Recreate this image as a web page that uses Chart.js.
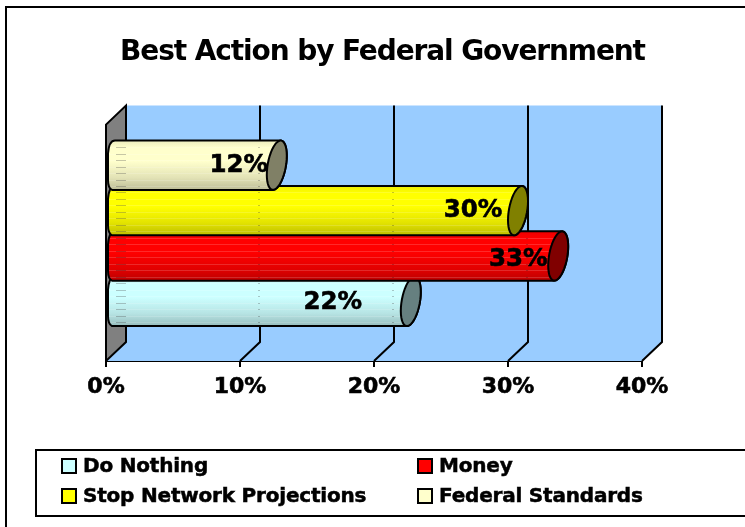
<!DOCTYPE html>
<html>
<head>
<meta charset="utf-8">
<title>Best Action by Federal Government</title>
<script src="https://cdn.jsdelivr.net/npm/chart.js@4"></script>
<style>
    html, body { margin: 0; padding: 0; background: #fff; overflow: hidden; }
    #chart { display: block; }
</style>
</head>
<body>
<canvas id="chart" width="745" height="527"></canvas>
<script>
// chart values
const categories = ['Best Action'];
const seriesNames = ['Do Nothing', 'Money', 'Stop Network Projections', 'Federal Standards'];
const doNothing = [22];
const money = [33];
const stopProjections = [30];
const federalStandards = [12];
const xTicks = [0, 10, 20, 30, 40];

const seriesColors = ['#CCFFFF', '#FF0000', '#FFFF00', '#FFFFCC'];
const fontFamily = '"DejaVu Sans"';
const labelFont = `bold 24.5px ${fontFamily}`;
const legendFont = `bold 20px ${fontFamily}`;

// how far each value label sits from its bar end
const labelShift = [68, 30, 35, 28];
const labelDrop = [1, 4, 0, 0];

// oblique depth of the 3d box
const depthX = 20;
const depthY = 19;

function shade(hex, k) {
    const n = parseInt(hex.slice(1), 16);
    const r = Math.round((n >> 16 & 255) * k);
    const g = Math.round((n >> 8 & 255) * k);
    const b = Math.round((n & 255) * k);
    return `rgb(${r},${g},${b})`;
}

// walls, floor and gridlines behind the bars
function drawBox(chart) {
    const { ctx, chartArea: a, scales: { x } } = chart;
    ctx.save();
    ctx.fillStyle = '#99CCFF';
    ctx.beginPath();
    ctx.moveTo(a.left, a.bottom);
    ctx.lineTo(a.left + depthX, a.bottom - depthY);
    ctx.lineTo(a.left + depthX, a.top - depthY);
    ctx.lineTo(a.right + depthX, a.top - depthY);
    ctx.lineTo(a.right + depthX, a.bottom - depthY);
    ctx.lineTo(a.right, a.bottom);
    ctx.closePath();
    ctx.fill();

    ctx.fillStyle = '#808080';
    ctx.strokeStyle = '#000';
    ctx.lineWidth = 2;
    ctx.beginPath();
    ctx.moveTo(a.left, a.bottom);
    ctx.lineTo(a.left, a.top);
    ctx.lineTo(a.left + depthX, a.top - depthY);
    ctx.lineTo(a.left + depthX, a.bottom - depthY);
    ctx.closePath();
    ctx.fill();
    ctx.stroke();

    xTicks.slice(1).forEach(v => {
        const px = x.getPixelForValue(v);
        ctx.beginPath();
        ctx.moveTo(px, a.bottom);
        ctx.lineTo(px + depthX, a.bottom - depthY);
        ctx.lineTo(px + depthX, a.top - depthY);
        ctx.stroke();
    });
    ctx.restore();
}

// a cylinder cap is a slanted ellipse in the oblique projection
function capPoint(cx, cy, half, t) {
    const rx = depthX / 2;
    const ry = depthY / 2;
    const hy = Math.sqrt(half * half - ry * ry);
    return [cx + Math.sin(t) * rx, cy - Math.cos(t) * hy - Math.sin(t) * ry];
}

function traceCap(path, cx, cy, half, from, to) {
    const steps = 40;
    for (let i = 0; i <= steps; i++) {
        const t = from + (to - from) * i / steps;
        const p = capPoint(cx, cy, half, t);
        path.lineTo(p[0], p[1]);
    }
}

function drawCylinder(chart, index) {
    const { ctx, scales: { x } } = chart;
    const bar = chart.getDatasetMeta(index).data[0];
    const color = seriesColors[index];
    const half = bar.height / 2 + 2;
    const cy = bar.y - depthY / 2;
    const x0 = x.getPixelForValue(0) + depthX / 2;
    const x1 = bar.x + depthX / 2;
    const tilt = Math.atan2(depthY / 2, Math.sqrt(half * half - depthY * depthY / 4));
    const top = cy - half;
    const bottom = cy + half;

    // barrel with a blunt rounded left end
    const body = new Path2D();
    traceCap(body, x1, cy, half, tilt, tilt + Math.PI);
    body.lineTo(x0 - 4, bottom);
    body.quadraticCurveTo(x0 - 8, bottom - 2, x0 - 8, bottom - 10);
    body.lineTo(x0 - 8, top + 13);
    body.quadraticCurveTo(x0 - 7, top, x0 - 1, top);
    body.closePath();

    ctx.save();
    const g = ctx.createLinearGradient(0, top, 0, bottom);
    g.addColorStop(0, shade(color, 0.93));
    g.addColorStop(0.15, shade(color, 1));
    g.addColorStop(0.42, shade(color, 1));
    g.addColorStop(0.75, shade(color, 0.89));
    g.addColorStop(1, shade(color, 0.74));
    ctx.fillStyle = g;
    ctx.fill(body);

    // faint ribs along the barrel, gridlines just showing at each seam
    ctx.save();
    ctx.clip(body);
    ctx.lineWidth = 1;
    for (let y = top + 6.5; y < bottom; y += 6.5) {
        const py = Math.round(y) + 0.5;
        ctx.strokeStyle = 'rgba(255,255,255,0.16)';
        ctx.beginPath();
        ctx.moveTo(x0 - depthX, py);
        ctx.lineTo(x1 + depthX, py);
        ctx.stroke();
        ctx.strokeStyle = 'rgba(0,0,0,0.22)';
        xTicks.slice(0, -1).forEach(v => {
            const gx = x.getPixelForValue(v) + depthX;
            ctx.beginPath();
            ctx.moveTo(gx - (v === 0 ? 10 : 2), py);
            ctx.lineTo(gx, py);
            ctx.stroke();
        });
    }
    ctx.restore();

    ctx.strokeStyle = '#000';
    ctx.lineWidth = 2;
    ctx.lineJoin = 'round';
    ctx.stroke(body);

    const cap = new Path2D();
    traceCap(cap, x1, cy, half, 0, Math.PI * 2);
    cap.closePath();
    ctx.fillStyle = shade(color, 0.5);
    ctx.fill(cap);
    ctx.stroke(cap);
    ctx.restore();
}

function drawValueLabel(chart, index) {
    const { ctx } = chart;
    const bar = chart.getDatasetMeta(index).data[0];
    const text = chart.data.datasets[index].data[0] + '%';
    const lx = bar.x - labelShift[index];
    const ly = bar.y - depthY / 2 + labelDrop[index];
    ctx.save();
    ctx.font = labelFont;
    ctx.fillStyle = '#000';
    ctx.strokeStyle = '#000';
    ctx.lineWidth = 0.6;
    ctx.textAlign = 'center';
    ctx.textBaseline = 'middle';
    ctx.fillText(text, lx, ly);
    ctx.strokeText(text, lx, ly);
    ctx.restore();
}

function drawLegendBox(chart) {
    const { ctx } = chart;
    const cols = [62, 418];
    const rows = [466, 496];
    ctx.save();
    ctx.strokeStyle = '#000';
    ctx.lineWidth = 2;
    ctx.strokeRect(36, 450, 720, 66);
    ctx.font = legendFont;
    ctx.letterSpacing = '-0.2px';
    ctx.textBaseline = 'middle';
    seriesNames.forEach((name, i) => {
        const lx = cols[i % 2];
        const ly = rows[Math.floor(i / 2)];
        ctx.fillStyle = seriesColors[i];
        ctx.lineWidth = 2;
        ctx.fillRect(lx, ly - 7, 14, 14);
        ctx.strokeRect(lx, ly - 7, 14, 14);
        ctx.fillStyle = '#000';
        ctx.lineWidth = 0.5;
        ctx.fillText(name, lx + 21, ly + 1);
        ctx.strokeText(name, lx + 21, ly + 1);
    });
    ctx.letterSpacing = '0px';
    ctx.restore();
}

const box3d = {
    id: 'box3d',
    beforeDraw(chart) {
        const { ctx, titleBlock } = chart;
        // outer frame, runs off the right and bottom of the page
        ctx.save();
        ctx.strokeStyle = '#000';
        ctx.lineWidth = 2;
        ctx.strokeRect(6, 7, 800, 600);
        ctx.restore();

        // title option has no letter spacing, so tighten it around its draw
        if (!titleBlock.tightened) {
            const drawTitle = titleBlock.draw;
            titleBlock.draw = function () {
                ctx.letterSpacing = '-1.1px';
                drawTitle.call(this);
                ctx.letterSpacing = '0px';
            };
            titleBlock.tightened = true;
        }
    },
    beforeDatasetsDraw: drawBox,
    // the default flat bars are replaced by cylinders below
    beforeDatasetDraw() {
        return false;
    },
    afterDatasetsDraw(chart) {
        for (let i = 0; i < seriesNames.length; i++) drawCylinder(chart, i);
        for (let i = 0; i < seriesNames.length; i++) drawValueLabel(chart, i);
        drawLegendBox(chart);
    }
};

new Chart(document.getElementById('chart'), {
    type: 'bar',
    data: {
        labels: categories,
        datasets: [doNothing, money, stopProjections, federalStandards].map((values, i) => ({
            label: seriesNames[i],
            data: values,
            backgroundColor: seriesColors[i],
            borderColor: '#000',
            // first series sits lowest on the axis
            order: seriesNames.length - i,
            categoryPercentage: 0.768,
            barPercentage: 1
        }))
    },
    plugins: [box3d],
    options: {
        indexAxis: 'y',
        responsive: false,
        animation: false,
        layout: { padding: { left: 20, right: 0, top: 0, bottom: 0 } },
        scales: {
            x: {
                min: 0,
                max: 40,
                afterBuildTicks(scale) {
                    scale.ticks = xTicks.map(value => ({ value }));
                },
                afterFit(scale) {
                    scale.height = 166;
                },
                grid: { drawOnChartArea: false, drawTicks: true, tickLength: 6, color: '#000', lineWidth: 2 },
                border: { display: true, color: '#000', width: 2 },
                ticks: {
                    color: '#000',
                    padding: 7,
                    maxRotation: 0,
                    textStrokeColor: '#000',
                    textStrokeWidth: 0.6,
                    font: { family: fontFamily, size: 22, weight: 'bold' },
                    callback: value => value + '%'
                }
            },
            y: {
                ticks: { display: false },
                grid: { display: false },
                border: { display: false },
                afterFit(scale) {
                    scale.width = 86;
                }
            },
            spacer: {
                position: 'right',
                ticks: { display: false },
                grid: { display: false },
                border: { display: false },
                afterFit(scale) {
                    scale.width = 103;
                }
            }
        },
        plugins: {
            legend: { display: false },
            tooltip: { enabled: false },
            title: {
                display: true,
                text: 'Best Action by Federal Government',
                color: '#000',
                padding: { top: 36, bottom: 55 },
                font: { family: fontFamily, size: 28, weight: 'bold' }
            }
        }
    }
});
</script>
</body>
</html>
